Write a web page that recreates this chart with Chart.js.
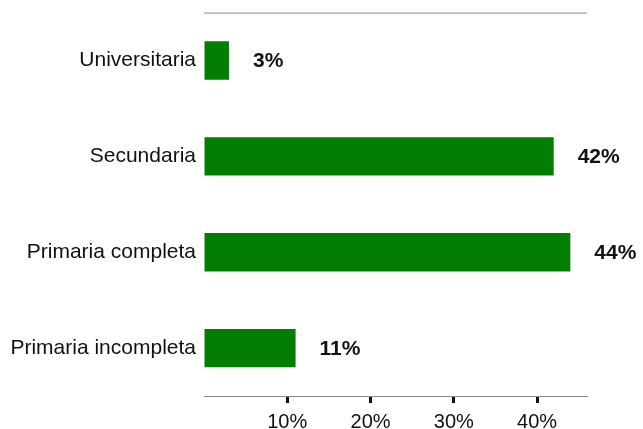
<!DOCTYPE html>
<html lang="es">
<head>
<meta charset="utf-8">
<title>Nivel educativo</title>
<script src="https://cdn.jsdelivr.net/npm/chart.js@4"></script>
<style>
  html, body { margin: 0; padding: 0; background: #fff; }
  #wrap { width: 643px; height: 429px; position: relative; }
</style>
</head>
<body>
<div id="wrap"><canvas id="eduChart"></canvas></div>
<script>
  const categories = ["Universitaria", "Secundaria", "Primaria completa", "Primaria incompleta"];
  const shares = [3, 42, 44, 11];
  const xTicks = [10, 20, 30, 40];

  const FONT = "'Liberation Sans', Arial, sans-serif";
  const BAR_GREEN = "#027f02";

  // thin rule along the top of the plot area
  const topRule = {
    id: "topRule",
    beforeDatasetsDraw(chart) {
      const { ctx, chartArea } = chart;
      ctx.save();
      ctx.strokeStyle = "#8a8a8a";
      ctx.lineWidth = 1;
      ctx.beginPath();
      ctx.moveTo(chartArea.left, chartArea.top + 0.5);
      ctx.lineTo(chartArea.right, chartArea.top + 0.5);
      ctx.stroke();
      ctx.restore();
    },
  };

  // bold percentage written just past the end of each bar
  const valueLabels = {
    id: "valueLabels",
    afterDatasetsDraw(chart) {
      const { ctx } = chart;
      const meta = chart.getDatasetMeta(0);
      ctx.save();
      ctx.font = `bold 21px ${FONT}`;
      ctx.fillStyle = "#111";
      ctx.textAlign = "left";
      ctx.textBaseline = "middle";
      meta.data.forEach((bar, i) => {
        ctx.fillText(`${shares[i]}%`, bar.x + 24, bar.y + 1);
      });
      ctx.restore();
    },
  };

  new Chart(document.getElementById("eduChart"), {
    type: "bar",
    data: {
      labels: categories,
      datasets: [{
        data: shares,
        backgroundColor: BAR_GREEN,
        borderWidth: 0,
        barPercentage: 0.4,
        categoryPercentage: 1,
      }],
    },
    options: {
      indexAxis: "y",
      responsive: true,
      maintainAspectRatio: false,
      animation: false,
      layout: { padding: { top: 8, right: 56, left: 0, bottom: 0 } },
      plugins: { legend: { display: false }, tooltip: { enabled: false } },
      scales: {
        x: {
          min: 0,
          max: 46,
          afterFit: (scale) => { scale.height = 33; },
          afterBuildTicks: (scale) => {
            scale.ticks = [0, ...xTicks].map((v) => ({ value: v }));
          },
          ticks: {
            callback: (v) => (v === 0 ? "" : `${v}%`),
            font: { family: FONT, size: 20 },
            color: "#111",
            padding: 7,
            maxRotation: 0,
          },
          grid: {
            drawOnChartArea: false,
            drawTicks: true,
            tickLength: 7,
            tickWidth: 3,
            tickColor: (c) => (c.tick && c.tick.value === 0 ? "rgba(0,0,0,0)" : "#111"),
          },
          border: { display: true, color: "#8a8a8a", width: 1 },
        },
        y: {
          afterFit: (scale) => { scale.width = 204; },
          ticks: {
            font: { family: FONT, size: 21 },
            color: "#111",
            padding: 0,
          },
          grid: { display: false },
          border: { display: false },
        },
      },
    },
    plugins: [topRule, valueLabels],
  });
</script>
</body>
</html>
